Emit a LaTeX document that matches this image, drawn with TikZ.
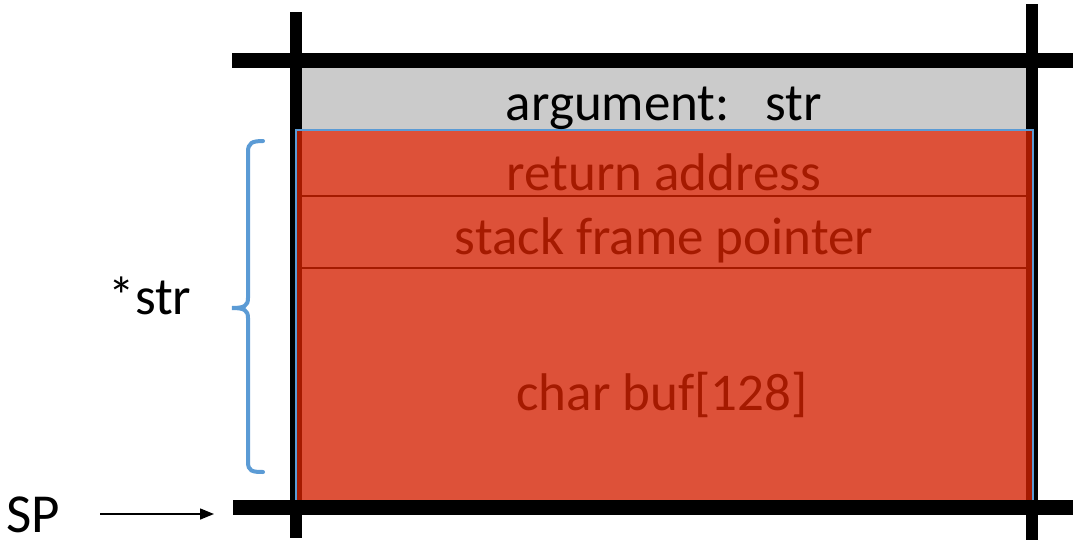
\documentclass[tikz,border=0pt]{standalone}
\usepackage{fontspec}
\setmainfont{Carlito}
\usetikzlibrary{arrows.meta}
\definecolor{cellred}{HTML}{DD5139}
\definecolor{darkred}{HTML}{A51A00}
\definecolor{cellgray}{HTML}{CBCBCB}
\definecolor{braceblue}{HTML}{5B9BD5}
\tikzset{
  blackline/.style={line width=12pt, black},
  hline/.style={line width=15pt, black},
  divline/.style={line width=1.5pt, darkred},
  celltext/.style={anchor=base, inner sep=0pt, font=\fontsize{53}{60}\selectfont, text=darkred},
  labeltext/.style={anchor=base, inner sep=0pt, font=\fontsize{53}{60}\selectfont, text=black},
}
\begin{document}
\begin{tikzpicture}[x=1pt,y=-1pt]
\useasboundingbox (0,0) rectangle (1073,541);
% gray argument cell
\fill[cellgray] (302,68) rectangle (1026,131);
% black frame lines
\draw[blackline] (296,12) -- (296,538);
\draw[blackline] (1032,4) -- (1032,540);
\draw[hline] (232,60) -- (1073,60);
% red frame
\fill[cellred] (296,130) rectangle (1033,501);
\fill[darkred] (296,131) rectangle (302,500);
\fill[darkred] (1026,131) rectangle (1032,500);
\draw[divline] (302,196) -- (1026,196);
\draw[divline] (302,268) -- (1026,268);
\draw[braceblue, line width=1.5pt] (296,130) rectangle (1033,501);
\draw[hline] (233,507) -- (1073,507);
% texts
\node[labeltext] (arg) at (664,120) {argument:\ \ \ str};
\node[celltext] (ret) at (664,190) {return address};
\node[celltext] (sfp) at (664,254) {stack frame pointer};
\node[celltext] (buf) at (662,410) {char buf[128]};
\node[labeltext] (pstr) at (150,314) {*str};
\node[labeltext, text depth=0pt, font=\fontsize{55}{60}\selectfont] (sp) at (33,532) {SP};
% brace
\draw[braceblue, line width=4pt, line cap=round]
  (263,141) .. controls (252,141) and (248,143) .. (248,152) -- (248,298)
  .. controls (248,306) and (244,308) .. (232,308)
  .. controls (244,308) and (248,310) .. (248,318) -- (248,462)
  .. controls (248,471) and (252,472) .. (263,472);
% SP arrow
\coordinate (spstart) at (100,514);
\coordinate (spend) at (214,514);
\draw[line width=1.5pt, -{Triangle[length=14pt,width=11pt]}] (spstart) -- (spend);
\end{tikzpicture}
\end{document}
